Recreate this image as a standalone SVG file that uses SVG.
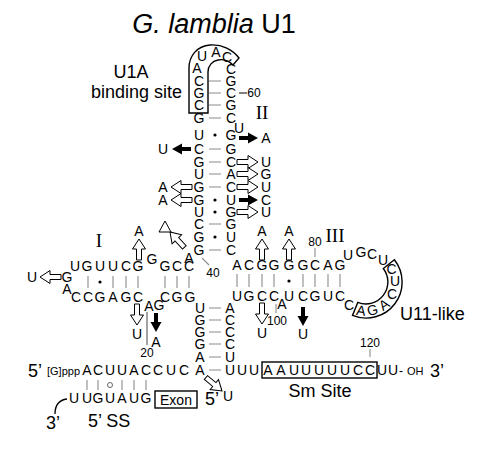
<svg xmlns="http://www.w3.org/2000/svg" xmlns:xlink="http://www.w3.org/1999/xlink" width="480" height="450" viewBox="0 0 480 450">
<style>
.n{font-family:"Liberation Sans",Arial,sans-serif;font-size:14px;text-anchor:middle;dominant-baseline:central;fill:#000}
.num{font-family:"Liberation Sans",Arial,sans-serif;font-size:12px;text-anchor:middle;dominant-baseline:central;fill:#000}
.lbl{font-family:"Liberation Sans",Arial,sans-serif;font-size:18px;fill:#000}
.rom{font-family:"Liberation Serif","Times New Roman",serif;font-size:19px;text-anchor:middle;dominant-baseline:central;fill:#000}
.p{stroke:#8c8c8c;stroke-width:1.1;fill:none}
.t{stroke:#555;stroke-width:1.1;fill:none}
.box{fill:none;stroke:#000;stroke-width:1.4}
</style>
<defs>
<path id="ha" d="M0,0 L-10,-6.5 L-10,-2.5 L-21,-2.5 L-21,2.5 L-10,2.5 L-10,6.5 Z" fill="#fff" stroke="#000" stroke-width="1"/>
<path id="ba" d="M0,0 L-10,-5.5 L-10,-2 L-19,-2 L-19,2 L-10,2 L-10,5.5 Z" fill="#000"/>
</defs>
<rect width="480" height="450" fill="#fff"/>

<g id="title">
<text x="214" y="33" font-family="Liberation Sans,Arial,sans-serif" font-size="27" text-anchor="middle"><tspan font-style="italic">G. lamblia</tspan> U1</text>
</g>

<g id="u1a-site">
<path class="box" d="M189 113 L189 68 C189 56 197 46 210 45 C222 44 233 50 239 58 L233 65 C229 61 223 59 218 60 C212 61 208 66 208 72 L208 113 Z"/>
<text class="lbl" x="131" y="78" text-anchor="middle" font-size="17">U1A</text>
<text class="lbl" x="182" y="98" text-anchor="end" font-size="17">binding site</text>
</g>

<g id="stem-II">
<text class="n" x="197 202 216 227" y="68 56 52 57">AUAC</text>
<text class="n" x="199 199 199 199 199 199 199 199 199 199 199 199 199 199" y="81 93 105 118 135 149 162 174 187 200 212 224 237 250">CGCGUCGUGGUCGG</text>
<text class="n" x="231 231 231 231 231 231 231 231 231 231 231 231 231 231 231" y="69 81 93 105 118 135 149 162 174 187 200 212 224 237 250">CGCGCGGCACUGGUC</text>
<g class="p">
<path d="M209 81H221M209 93H221M209 105H221M209 118H221M209 149H221M209 162H221M209 174H221M209 187H221M209 224H221M209 250H221"/>
</g>
<g fill="#000">
<circle cx="215" cy="135" r="1.6"/><circle cx="215" cy="200" r="1.6"/><circle cx="215" cy="212" r="1.6"/><circle cx="215" cy="237" r="1.6"/>
</g>
<path d="M239 93H247" stroke="#000" stroke-width="1"/>
<text class="num" x="254" y="93">60</text>
<text class="rom" x="262" y="112">II</text>
<text class="n" x="189" y="258">A</text>
<path class="p" d="M202 258L209 265"/>
<text class="num" x="213" y="273">40</text>
</g>

<g id="stem-II-variants">
<text class="n" x="239" y="128" font-size="12">U</text>
<use href="#ba" transform="translate(258,138)"/>
<text class="n" x="266" y="138">A</text>
<use href="#ba" transform="translate(172,149) rotate(180)"/>
<text class="n" x="163" y="149">U</text>
<use href="#ha" transform="translate(258,162)"/>
<text class="n" x="266" y="162">U</text>
<use href="#ha" transform="translate(258,174)"/>
<text class="n" x="266" y="174">G</text>
<use href="#ha" transform="translate(258,187)"/>
<text class="n" x="266" y="187">U</text>
<use href="#ba" transform="translate(258,200)"/>
<text class="n" x="266" y="200">C</text>
<use href="#ha" transform="translate(258,212)"/>
<text class="n" x="266" y="212">U</text>
<use href="#ha" transform="translate(171,187) rotate(180)"/>
<text class="n" x="163" y="187">A</text>
<use href="#ha" transform="translate(171,200) rotate(180)"/>
<text class="n" x="163" y="200">A</text>
<use href="#ha" transform="translate(170,232) rotate(-133)"/>
<path d="M159 232L171 232L165 221Z" fill="#fff" stroke="#000" stroke-width="1"/>
</g>

<g id="stem-I">
<text class="n" x="75 87 100 113 126 138 152 165 177 189" y="266 266 266 266 266 266 259 266 266 266">UGUUCGGGCC</text>
<text class="n" x="67 67" y="277 289">GA</text>
<text class="n" x="76 88 100 113 126 138 149 159 165 177 190" y="297 297 297 297 297 297 306 305 297 297 297">CCGAGCAGCGG</text>
<path class="p" d="M88 276V288M113 276V288M126 276V288M138 276V288M165 276V288M177 276V288M189 276V288"/>
<circle cx="100" cy="282" r="1.6" fill="#000"/>
<text class="rom" x="99" y="240">I</text>
<use href="#ha" transform="translate(139,239) rotate(-90)"/>
<text class="n" x="139" y="231">A</text>
<use href="#ha" transform="translate(40,277) rotate(180)"/>
<text class="n" x="32" y="277">U</text>
<use href="#ha" transform="translate(137,325) rotate(90)"/>
<text class="n" x="137" y="334">U</text>
<use href="#ba" transform="translate(156,332) rotate(90)"/>
<text class="n" x="156" y="342">A</text>
<path class="t" d="M147 312V345"/>
<text class="num" x="147" y="353">20</text>
</g>

<g id="stem-III">
<text class="n" x="237 249 262 274 289 303 315 328 340" y="265">ACGGGGCAG</text>
<text class="n" x="237 249 262 274 282 289 303 315 328 340" y="296 296 296 296 304 296 296 296 296 296">UGCCAUCGUC</text>
<path class="p" d="M237 274V287M249 274V287M262 274V287M274 274V287M303 274V287M315 274V287M328 274V287M340 274V287"/>
<circle cx="289" cy="281" r="1.6" fill="#000"/>
<text class="n" x="348 361 372 383" y="255 252 254 260">UGCU</text>
<text class="n" x="349" y="305">C</text>
<text class="rom" x="335" y="235">III</text>
<path class="p" d="M315 248V257"/>
<text class="num" x="315" y="242">80</text>
<use href="#ha" transform="translate(262,239) rotate(-90)"/>
<text class="n" x="262" y="231">A</text>
<use href="#ha" transform="translate(289,239) rotate(-90)"/>
<text class="n" x="289" y="231">A</text>
<use href="#ha" transform="translate(262,324) rotate(90)"/>
<text class="n" x="262" y="333">U</text>
<path class="p" d="M276 304V313"/>
<text class="num" x="277" y="321">100</text>
<use href="#ba" transform="translate(303,326) rotate(90)"/>
<text class="n" x="303" y="334">U</text>
</g>

<g id="u11-like">
<path class="box" d="M394.4 259.8 A36 36 0 0 1 352.5 315.4 L357.8 302.4 A22 22 0 0 0 383.3 268.5 Z"/>
<text class="n" x="391.5" y="268.5">C</text>
<text class="n" x="395" y="281">U</text>
<text class="n" x="392" y="293.5">C</text>
<text class="n" transform="translate(384,304.5) rotate(-35)">A</text>
<text class="n" transform="translate(372.5,310) rotate(-13)">G</text>
<text class="n" transform="translate(361,310.5) rotate(8)">A</text>
<text class="lbl" x="400" y="319.5">U11-like</text>
</g>

<g id="stem-IV">
<text class="n" x="200 200 200 200 200" y="308 320 332 344 357">UGGGA</text>
<text class="n" x="230 230 230 230 230" y="308 320 332 344 357">ACCCU</text>
<path class="p" d="M209 308H221M209 320H221M209 332H221M209 344H221M209 357H221M209 370H221"/>
</g>

<g id="five-prime">
<text class="lbl" x="28" y="377" font-size="19">5’</text>
<text x="47" y="374.5" font-family="Liberation Sans,Arial,sans-serif" font-size="11">[G]ppp</text>
<text class="n" x="87 98 110 122 134 146 158 171 184 200 230 242 254" y="370">ACUUACCUCAUUU</text>
<use href="#ha" transform="translate(222,391) rotate(40)"/>
<text class="n" x="228" y="396">U</text>
</g>

<g id="sm-site">
<rect class="box" x="262" y="362" width="115" height="16"/>
<text class="n" x="268 281 294 306 319 332 345 358 370 382 393" y="370">AAUUUUUCCUU</text>
<text x="399" y="374.5" font-family="Liberation Sans,Arial,sans-serif" font-size="12">-</text>
<text x="407" y="374.5" font-family="Liberation Sans,Arial,sans-serif" font-size="11">OH</text>
<text class="lbl" x="430" y="377">3’</text>
<path class="p" d="M370 349V357"/>
<text class="num" x="370" y="343" font-size="11">120</text>
<text class="lbl" x="320" y="397" text-anchor="middle">Sm Site</text>
</g>

<g id="five-ss">
<path class="p" d="M87 380V390M98 380V390M122 380V390M134 380V390M146 380V390"/>
<circle cx="110" cy="385" r="2.5" fill="none" stroke="#666" stroke-width="1"/>
<text class="n" x="74 87 98 110 122 134 146" y="398">UUGUAUG</text>
<rect class="box" x="155" y="391" width="42" height="17"/>
<text class="n" x="176" y="399.5" font-size="15">Exon</text>
<text class="lbl" x="205" y="405" font-size="17">5’</text>
<path d="M55 414C55 405 59 400 67 399" fill="none" stroke="#000" stroke-width="1.3"/>
<text class="lbl" x="53" y="429" font-size="16" text-anchor="middle">3’</text>
<text class="lbl" x="88" y="427" font-size="19">5’ SS</text>
</g>
</svg>
